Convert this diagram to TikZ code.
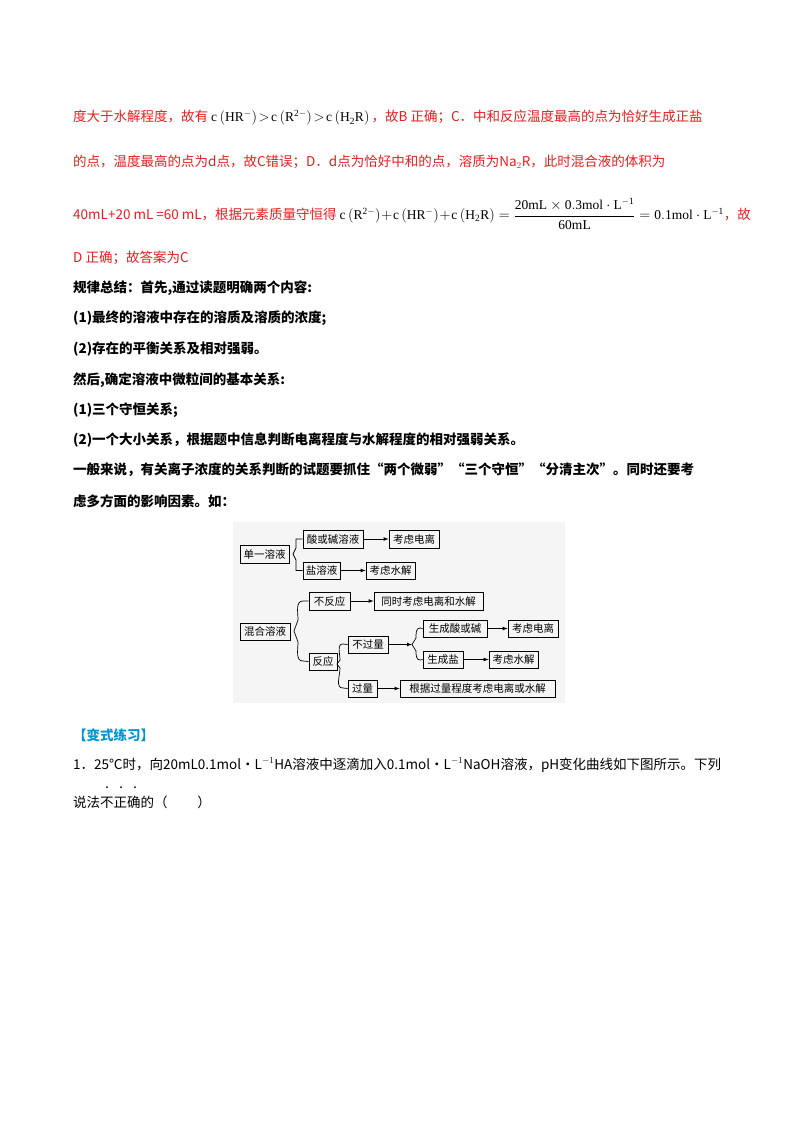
\documentclass[tikz,border=0pt]{standalone}
\usepackage{amsmath}
\usepackage{fontspec}
\setmainfont{Liberation Serif}
\newfontfamily\cjk{Noto Sans CJK SC}
\definecolor{redt}{RGB}{230,30,30}
\definecolor{bluet}{RGB}{0,150,210}
\begin{document}
\begin{tikzpicture}[x=1pt,y=-1pt,
  txt/.style={anchor=west,inner sep=0pt,font=\fontsize{13.5}{15}\cjk},
  rtxt/.style={txt,text=redt},
  btxt/.style={txt,font=\fontsize{13.5}{15}\cjk\bfseries},
  bx/.style={draw,line width=0.8pt,inner sep=2pt,font=\fontsize{10.5}{11}\cjk},
  ar/.style={-latex,line width=0.7pt},
  br/.style={line width=0.7pt}]
\useasboundingbox (0,0) rectangle (800,1132);
% red text
\node[rtxt] (l1) at (73,118) {度大于水解程度，故有 {\color{black}$\mathrm{c\left(HR^-\right)\!>\!c\left(R^{2-}\right)\!>\!c\left(H_2R\right)}$}\,，故B 正确；C．中和反应温度最高的点为恰好生成正盐};
\node[rtxt] (l2) at (73,162) {的点，温度最高的点为d点，故C错误；D．d点为恰好中和的点，溶质为Na$_2$R，此时混合液的体积为};
\node[rtxt] (l3) at (73,214) {40mL+20 mL =60 mL，根据元素质量守恒得 {\color{black}$\mathrm{c\left(R^{2-}\right)\!+\!c\left(HR^-\right)\!+\!c\left(H_2R\right)=\dfrac{20mL\times0.3mol\cdot L^{-1}}{60mL}=0.1mol\cdot L^{-1}}$}，故};
\node[rtxt] (l4) at (73,258) {D 正确；故答案为C};
% bold
\node[btxt] (b1) at (73,288) {规律总结：首先,通过读题明确两个内容:};
\node[btxt] (b2) at (73,318) {(1)最终的溶液中存在的溶质及溶质的浓度;};
\node[btxt] (b3) at (73,349) {(2)存在的平衡关系及相对强弱。};
\node[btxt] (b4) at (73,380) {然后,确定溶液中微粒间的基本关系:};
\node[btxt] (b5) at (73,410) {(1)三个守恒关系;};
\node[btxt] (b6) at (73,440) {(2)一个大小关系，根据题中信息判断电离程度与水解程度的相对强弱关系。};
\node[btxt] (b7) at (73,470) {一般来说，有关离子浓度的关系判断的试题要抓住“两个微弱”“三个守恒”“分清主次”。同时还要考};
\node[btxt] (b8) at (73,501) {虑多方面的影响因素。如：};
% diagram
\fill[black!4] (233,522) rectangle (565,703);
\node[bx,minimum width=49pt,minimum height=18pt] (a1) at (264.5,554) {单一溶液};
\node[bx,minimum width=60pt,minimum height=18pt] (a2) at (333,539) {酸或碱溶液};
\node[bx,minimum width=50pt,minimum height=18pt] (a3) at (414,539) {考虑电离};
\node[bx,minimum width=37pt,minimum height=17pt] (a4) at (321.5,570.5) {盐溶液};
\node[bx,minimum width=49pt,minimum height=17pt] (a5) at (390.5,570.5) {考虑水解};
\node[bx,minimum width=41pt,minimum height=18pt] (c1) at (329.5,601) {不反应};
\node[bx,minimum width=109pt,minimum height=18pt] (c2) at (428.5,601) {同时考虑电离和水解};
\node[bx,minimum width=50pt,minimum height=17pt] (m) at (265,631.5) {混合溶液};
\node[bx,minimum width=64pt,minimum height=17pt] (d1) at (455,628.5) {生成酸或碱};
\node[bx,minimum width=50pt,minimum height=17pt] (d2) at (533,628.5) {考虑电离};
\node[bx,minimum width=40pt,minimum height=17pt] (e1) at (368,644.5) {不过量};
\node[bx,minimum width=40pt,minimum height=17pt] (d3) at (443,659.5) {生成盐};
\node[bx,minimum width=49pt,minimum height=17pt] (d4) at (513.5,659.5) {考虑水解};
\node[bx,minimum width=28pt,minimum height=17pt] (r) at (323,661.5) {反应};
\node[bx,minimum width=29pt,minimum height=17pt] (e2) at (362.5,688.5) {过量};
\node[bx,minimum width=155pt,minimum height=17pt] (e3) at (477.5,688.5) {根据过量程度考虑电离或水解};
\draw[ar] (a2) -- (a3);
\draw[ar] (a4) -- (a5);
\draw[ar] (c1) -- (c2);
\draw[ar] (d1) -- (d2);
\draw[ar] (d3) -- (d4);
\draw[ar] (e2) -- (e3);
\draw[ar] (e1.east) -- (412,644.5);
% braces
\draw[br] (a2.west) -| (296,548) -- (293,554) -- (296,560) |- (a4.west);
\draw[br] (c1.west) -- (303,601) to[out=180,in=90] (298,620) -- (294,631) -- (298,642) to[out=-90,in=180] (303,661) -- (r.west);
\draw[br] (e1.west) -- (343,644) to[out=180,in=90] (340,660) -- (337,664) -- (340,668) to[out=-90,in=180] (343,688) -- (e2.west);
\draw[br] (d1.west) -- (420,628) to[out=180,in=90] (416,638) -- (412,644.5) -- (416,651) to[out=-90,in=180] (420,660) -- (d3.west);
% exercise
\node[txt,font=\fontsize{13.5}{15}\cjk\bfseries,text=bluet] (h) at (73,735) {【变式练习】};
\node[txt] (q1) at (73,765) {1．25℃时，向20mL0.1mol·L$^{-1}$HA溶液中逐滴加入0.1mol·L$^{-1}$NaOH溶液，pH变化曲线如下图所示。下列};
\node[txt] (q2) at (73,802) {说法不正确的（\hspace{2.2em}）};
\foreach \x in {107,121,135} \fill (\x,787) circle (1pt);
\end{tikzpicture}
\end{document}
